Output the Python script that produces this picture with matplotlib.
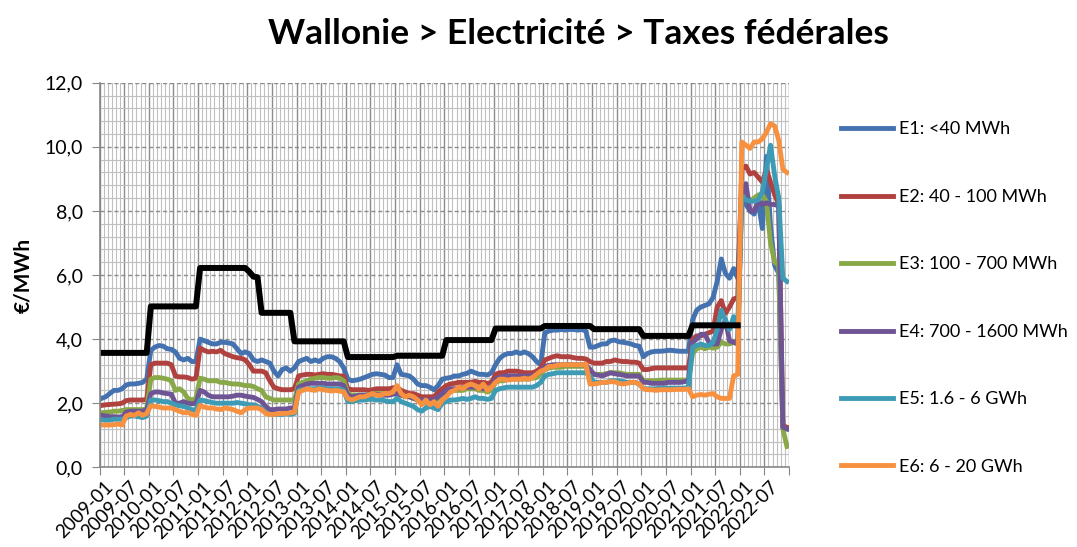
import numpy as np
import matplotlib.pyplot as plt
from matplotlib.ticker import FuncFormatter, MultipleLocator
import matplotlib.transforms as mtransforms

plt.rcParams['font.family'] = ['Lato', 'DejaVu Sans']

# monthly values, 2009-01 .. 2022-12 (EUR/MWh)
e1 = [2.15, 2.2, 2.3, 2.4, 2.4, 2.45, 2.57, 2.6, 2.6, 2.62, 2.65, 2.75,
      3.65, 3.75, 3.8, 3.78, 3.7, 3.68, 3.6, 3.4, 3.35, 3.4, 3.3, 3.3,
      4.0, 3.95, 3.9, 3.85, 3.85, 3.9, 3.9, 3.88, 3.85, 3.7, 3.55, 3.6,
      3.55, 3.35, 3.3, 3.35, 3.3, 3.25, 3.0, 2.85, 3.05, 3.1, 3.0, 3.1,
      3.3, 3.35, 3.4, 3.3, 3.35, 3.3, 3.4, 3.45, 3.45, 3.4, 3.3, 3.1,
      2.75, 2.7, 2.72, 2.75, 2.8, 2.85, 2.9, 2.92, 2.9, 2.88, 2.8, 2.8,
      3.2, 2.9, 2.88, 2.85, 2.75, 2.6, 2.55, 2.55, 2.5, 2.42, 2.55, 2.75,
      2.78, 2.8, 2.85, 2.85, 2.9, 2.93, 3.0, 2.95, 2.9, 2.9, 2.88, 2.95,
      3.2, 3.4, 3.5, 3.55, 3.55, 3.6, 3.55, 3.6, 3.55, 3.45, 3.3, 3.2,
      4.2, 4.25, 4.28, 4.28, 4.3, 4.28, 4.3, 4.3, 4.28, 4.3, 4.25, 3.75,
      3.75, 3.8, 3.85, 3.85, 3.95, 3.97, 3.92, 3.9, 3.88, 3.85, 3.8, 3.78,
      3.45, 3.55, 3.6, 3.62, 3.62, 3.63, 3.65, 3.65, 3.63, 3.62, 3.62, 3.62,
      4.6, 4.9, 5.0, 5.05, 5.1, 5.3, 5.8, 6.5, 6.05, 5.9, 6.2, 5.9,
      8.6, 8.2, 8.0, 7.9, 8.3, 7.45, 9.7, 7.5, 6.3, 6.05, 1.25, 1.2]
e2 = [1.93, 1.95, 1.96, 1.97, 1.98, 2.0, 2.08, 2.1, 2.1, 2.1, 2.1, 2.12,
      3.2, 3.25, 3.25, 3.25, 3.25, 3.2, 2.85, 2.82, 2.82, 2.8, 2.75, 2.78,
      3.72, 3.65, 3.6, 3.62, 3.6, 3.65, 3.55, 3.5, 3.45, 3.42, 3.4, 3.35,
      3.2, 3.0, 3.0, 3.0, 2.95, 2.7, 2.5, 2.45, 2.42, 2.42, 2.42, 2.45,
      2.85, 2.88, 2.9, 2.9, 2.88, 2.9, 2.92, 2.9, 2.9, 2.88, 2.85, 2.85,
      2.45, 2.42, 2.42, 2.42, 2.42, 2.4, 2.42, 2.45, 2.45, 2.45, 2.45, 2.48,
      2.5, 2.4, 2.35, 2.3, 2.3, 2.25, 2.2, 2.2, 2.2, 2.2, 2.35, 2.45,
      2.55, 2.6, 2.62, 2.65, 2.65, 2.65, 2.65, 2.68, 2.65, 2.65, 2.62, 2.65,
      2.9, 2.95, 2.95, 3.0, 3.0, 3.0, 2.98, 2.95, 2.95, 2.95, 3.0, 3.1,
      3.35, 3.4, 3.45, 3.48, 3.45, 3.45, 3.45, 3.42, 3.4, 3.4, 3.38, 3.3,
      3.25, 3.25, 3.25, 3.3, 3.3, 3.35, 3.32, 3.3, 3.3, 3.28, 3.28, 3.25,
      3.05, 3.05, 3.08, 3.1, 3.1, 3.1, 3.1, 3.1, 3.1, 3.1, 3.1, 3.1,
      4.0, 4.1, 4.1, 4.15, 4.2, 4.25, 5.0, 5.2, 4.8, 5.0, 5.25, 5.3,
      9.3, 9.4, 9.15, 9.2, 9.05, 8.9, 9.3, 8.9, 8.5, 8.2, 1.3, 1.25]
e3 = [1.7, 1.72, 1.72, 1.75, 1.75, 1.77, 1.8, 1.8, 1.8, 1.8, 1.8, 1.82,
      2.75, 2.8, 2.8, 2.78, 2.75, 2.7, 2.4, 2.45, 2.35, 2.15, 2.1, 2.15,
      2.78, 2.75, 2.7, 2.7, 2.7, 2.65, 2.65, 2.62, 2.6, 2.6, 2.58, 2.55,
      2.55, 2.52, 2.45, 2.4, 2.2, 2.15, 2.1, 2.1, 2.1, 2.1, 2.1, 2.1,
      2.6, 2.65, 2.7, 2.75, 2.78, 2.8, 2.8, 2.78, 2.78, 2.8, 2.78, 2.7,
      2.3, 2.25, 2.25, 2.25, 2.25, 2.25, 2.3, 2.3, 2.3, 2.3, 2.3, 2.3,
      2.35, 2.25, 2.2, 2.2, 2.15, 2.1, 2.05, 2.0, 2.0, 2.05, 2.15, 2.25,
      2.35, 2.4, 2.4, 2.4, 2.4, 2.45, 2.45, 2.45, 2.4, 2.4, 2.35, 2.4,
      2.65, 2.7, 2.7, 2.75, 2.75, 2.75, 2.75, 2.75, 2.75, 2.78, 2.8, 2.9,
      3.05, 3.1, 3.12, 3.12, 3.12, 3.15, 3.15, 3.15, 3.15, 3.15, 3.15, 3.05,
      2.9, 2.9, 2.9, 2.92, 2.95, 2.95, 2.95, 2.92, 2.9, 2.9, 2.9, 2.9,
      2.7, 2.7, 2.7, 2.7, 2.72, 2.72, 2.72, 2.72, 2.72, 2.72, 2.72, 2.72,
      3.55, 3.7, 3.75, 3.7, 3.75, 3.72, 3.75, 3.9, 3.85, 3.85, 3.9, 3.85,
      8.9, 8.5, 8.3, 8.4, 8.5, 8.5, 8.3, 7.0, 6.4, 6.3, 1.2, 0.65]
e4 = [1.62, 1.6, 1.58, 1.58, 1.57, 1.57, 1.72, 1.75, 1.75, 1.75, 1.75, 1.8,
      2.3, 2.35, 2.35, 2.32, 2.3, 2.28, 2.0, 2.0, 2.05, 2.0, 1.98, 2.0,
      2.4, 2.35, 2.25, 2.2, 2.2, 2.2, 2.2, 2.2, 2.22, 2.25, 2.25, 2.22,
      2.2, 2.18, 2.12, 2.05, 1.9, 1.8, 1.8, 1.82, 1.82, 1.82, 1.85, 1.85,
      2.5, 2.55, 2.6, 2.62, 2.62, 2.62, 2.62, 2.6, 2.6, 2.6, 2.6, 2.55,
      2.25, 2.2, 2.22, 2.25, 2.25, 2.25, 2.28, 2.28, 2.25, 2.25, 2.25, 2.28,
      2.3, 2.25, 2.22, 2.2, 2.15, 2.12, 2.1, 2.1, 2.1, 2.1, 2.2, 2.3,
      2.4, 2.45, 2.45, 2.48, 2.48, 2.5, 2.5, 2.5, 2.48, 2.45, 2.45, 2.5,
      2.75, 2.8, 2.85, 2.85, 2.85, 2.85, 2.85, 2.85, 2.85, 2.85, 2.9, 3.0,
      3.15, 3.18, 3.2, 3.2, 3.2, 3.2, 3.2, 3.2, 3.2, 3.2, 3.2, 3.05,
      2.9, 2.88, 2.85, 2.9, 2.95, 2.92, 2.9, 2.88, 2.85, 2.85, 2.85, 2.85,
      2.65, 2.65, 2.62, 2.62, 2.62, 2.62, 2.65, 2.65, 2.65, 2.65, 2.67, 2.7,
      3.9, 4.0, 4.15, 4.15, 3.9, 3.85, 3.85, 4.3, 4.6, 3.95, 3.9, 3.85,
      8.5, 8.85, 8.0, 8.0, 8.3, 8.2, 8.25, 8.2, 8.2, 8.15, 1.25, 1.2]
e5 = [1.48, 1.47, 1.47, 1.5, 1.5, 1.5, 1.55, 1.6, 1.6, 1.58, 1.55, 1.6,
      2.1, 2.1, 2.08, 2.05, 2.05, 2.0, 1.95, 1.92, 1.9, 1.85, 1.8, 1.78,
      2.1, 2.08, 2.05, 2.02, 2.0, 2.0, 2.0, 2.0, 2.0, 2.02, 2.0, 1.98,
      1.95, 1.95, 1.9, 1.85, 1.7, 1.65, 1.65, 1.65, 1.65, 1.67, 1.65, 1.68,
      2.4, 2.42, 2.45, 2.45, 2.45, 2.48, 2.48, 2.45, 2.45, 2.45, 2.45, 2.4,
      2.05, 2.05, 2.08, 2.1, 2.1, 2.12, 2.12, 2.1, 2.1, 2.08, 2.05, 2.05,
      2.15, 2.05, 2.0, 1.95, 1.9, 1.8, 1.75, 1.85, 1.9, 1.85, 1.8, 2.0,
      2.05, 2.1, 2.1, 2.12, 2.15, 2.12, 2.15, 2.2, 2.15, 2.15, 2.12, 2.15,
      2.4, 2.45, 2.48, 2.5, 2.5, 2.5, 2.5, 2.5, 2.5, 2.5, 2.55, 2.65,
      2.85, 2.9, 2.92, 2.95, 2.95, 2.95, 2.95, 2.95, 2.95, 2.95, 2.95, 2.85,
      2.65, 2.65, 2.65, 2.65, 2.7, 2.7, 2.7, 2.68, 2.65, 2.65, 2.65, 2.6,
      2.45, 2.45, 2.45, 2.45, 2.47, 2.47, 2.47, 2.47, 2.47, 2.47, 2.47, 2.5,
      3.75, 3.8, 3.85, 3.8, 3.8, 3.9, 4.3, 4.9, 4.6, 4.3, 4.7, 4.4,
      8.45, 8.35, 8.3, 8.3, 8.35, 8.6, 9.3, 10.05, 9.1, 8.4, 5.9, 5.8]
e6 = [1.32, 1.32, 1.32, 1.33, 1.35, 1.32, 1.6, 1.65, 1.62, 1.7, 1.62, 1.68,
      1.92, 1.9, 1.88, 1.85, 1.85, 1.85, 1.8, 1.75, 1.7, 1.72, 1.65, 1.62,
      1.93, 1.88, 1.85, 1.85, 1.82, 1.8, 1.85, 1.83, 1.8, 1.75, 1.7, 1.8,
      1.85, 1.85, 1.85, 1.8, 1.68, 1.65, 1.65, 1.67, 1.68, 1.68, 1.7, 1.72,
      2.35, 2.4, 2.45, 2.42, 2.4, 2.45, 2.42, 2.4, 2.38, 2.4, 2.38, 2.35,
      2.15, 2.1, 2.15, 2.2, 2.2, 2.25, 2.3, 2.25, 2.25, 2.3, 2.3, 2.35,
      2.55, 2.3, 2.2, 2.25, 2.2, 2.1, 1.95, 2.1, 1.95, 2.05, 1.9, 2.1,
      2.2, 2.35, 2.4, 2.5, 2.45, 2.55, 2.6, 2.55, 2.45, 2.6, 2.4, 2.5,
      2.65, 2.75, 2.75, 2.72, 2.75, 2.75, 2.75, 2.78, 2.75, 2.8, 2.9, 3.0,
      3.05, 3.15, 3.15, 3.18, 3.2, 3.2, 3.2, 3.2, 3.2, 3.2, 3.22, 2.6,
      2.6, 2.62, 2.65, 2.65, 2.67, 2.67, 2.62, 2.6, 2.62, 2.65, 2.65, 2.6,
      2.45, 2.42, 2.42, 2.4, 2.42, 2.42, 2.42, 2.42, 2.43, 2.43, 2.43, 2.45,
      2.2, 2.25, 2.27, 2.25, 2.28, 2.3, 2.2, 2.15, 2.15, 2.15, 2.85, 2.9,
      10.15, 10.05, 9.95, 10.15, 10.15, 10.25, 10.45, 10.72, 10.65, 10.2, 9.3, 9.2]
# black reference line (no legend entry), stops after 2021-12
ref = ([3.57] * 12 + [5.02] * 12 + [6.22] * 12 + [6.1, 5.95, 5.93]
       + [4.82] * 8 + [3.93] * 13 + [3.44] * 12 + [3.48] * 12 + [3.97] * 12
       + [4.33] * 12 + [4.41] * 12 + [4.31] * 12 + [4.10] * 12 + [4.43] * 12
       + [np.nan] * 12)

labels = ['E1: <40 MWh', 'E2: 40 - 100 MWh', 'E3: 100 - 700 MWh',
          'E4: 700 - 1600 MWh', 'E5: 1.6 - 6 GWh', 'E6: 6 - 20 GWh']
colors = ['#4472B0', '#B0413E', '#89A948', '#6E5494', '#3E9BB5', '#F7913F']
months = [f'{y}-{m:02d}' for y in range(2009, 2023) for m in range(1, 13)]

fig = plt.figure(figsize=(10.77, 5.47), dpi=100)
ax = fig.add_axes([0.0924, 0.1457, 0.6402, 0.7031])

x = np.arange(len(months)) + 0.5
for vals, lab, col in zip([e1, e2, e3, e4, e5, e6], labels, colors):
    ax.plot(x, vals, color=col, lw=3.5, label=lab, solid_joinstyle='round')
ax.plot(x, ref, color='black', lw=4.3, solid_joinstyle='round')

ax.set_xlim(0, len(months))
ax.set_ylim(0, 12)

# grid: monthly minor lines, half-year major lines
ax.set_xticks(np.arange(0, len(months) + 1, 6))
ax.xaxis.set_minor_locator(MultipleLocator(1))
ax.yaxis.set_major_locator(MultipleLocator(2))
ax.yaxis.set_minor_locator(MultipleLocator(0.4))
ax.grid(which='minor', color='#c0c0c0', lw=0.8)
ax.grid(which='major', axis='x', color='#8c8c8c', lw=1.0)
ax.grid(which='major', axis='y', color='#8c8c8c', lw=1.0, ls=(0, (3, 2)))
ax.set_axisbelow(True)
ax.tick_params(axis='x', which='major', length=6, color='#868686', labelbottom=False)
ax.tick_params(axis='y', which='major', length=6, color='#868686', labelsize=14, pad=6)
ax.tick_params(which='minor', length=0)
ax.yaxis.set_major_formatter(FuncFormatter(lambda v, p: f'{v:.1f}'.replace('.', ',')))
for s in ['top', 'right']:
    ax.spines[s].set_visible(False)
for s in ['left', 'bottom']:
    ax.spines[s].set_color('#868686')
    ax.spines[s].set_linewidth(1.2)

# rotated month labels, one every half year
off = mtransforms.offset_copy(ax.get_xaxis_transform(), fig=fig, x=2, y=-8, units='points')
for i in range(0, len(months), 6):
    ax.text(i + 0.5, 0, months[i], transform=off, rotation=45, ha='right', va='top',
            rotation_mode='anchor', fontsize=13.5)

ax.set_ylabel('€/MWh', fontsize=15, fontweight='bold', labelpad=8)
fig.suptitle('Wallonie > Electricité > Taxes fédérales', x=0.537, y=0.968,
             fontsize=25.5, fontweight='bold')

fig.legend(loc='center left', bbox_to_anchor=(0.781, 0.455), frameon=False,
           fontsize=13, labelspacing=2.85, handlelength=2.9, handletextpad=0.3,
           borderpad=0, borderaxespad=0)

fig.savefig('out.png', dpi=100)
